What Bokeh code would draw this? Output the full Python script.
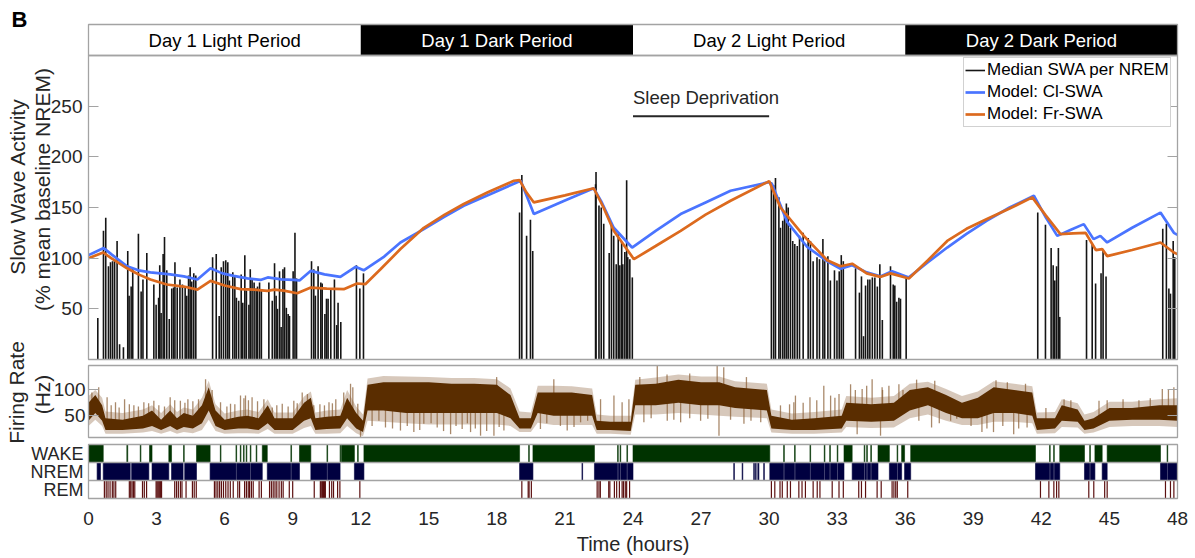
import math
from bokeh.plotting import figure
from bokeh.models import (Range1d, LinearAxis, FixedTicker, Label,
                          Legend, LegendItem)
from bokeh.embed import file_html
from bokeh.resources import INLINE
from bokeh.core.properties import value

# ---------------- data ----------------
period_labels = ["Day 1 Light Period", "Day 1 Dark Period",
                 "Day 2 Light Period", "Day 2 Dark Period"]
period_start = [0, 12, 24, 36]
period_end = [12, 24, 36, 48]
period_dark = [False, True, False, True]

sd_start = 24
sd_end = 30
sd_label = "Sleep Deprivation"

x_ticks = [0, 3, 6, 9, 12, 15, 18, 21, 24, 27, 30, 33, 36, 39, 42, 45, 48]
swa_ticks = [50, 100, 150, 200, 250]
rate_ticks = [50, 100]
state_rows = {1: "REM", 2: "NREM", 3: "WAKE"}

# median SWA per NREM episode (hours, % baseline)
bar_t = [0.41, 0.66, 0.76, 0.88, 0.97, 1.06, 1.15, 1.26, 1.37, 1.54, 1.73, 1.79,
         1.88, 1.95, 2.20, 2.32, 2.40, 2.57, 2.88, 2.98, 3.09, 3.14, 3.20, 3.29,
         3.35, 3.45, 3.56, 3.67, 3.75, 3.81, 3.91, 4.03, 4.14, 4.26, 4.33, 4.41,
         4.48, 4.55, 4.64, 4.73, 5.47, 5.63, 5.76, 5.85, 5.95, 6.05, 6.14, 6.21,
         6.36, 6.45, 6.52, 6.62, 6.73, 6.80, 6.89, 6.96, 7.07, 7.13, 7.21, 7.30,
         7.39, 7.45, 7.54, 7.62, 7.95, 8.10, 8.20, 8.27, 8.33, 8.42, 8.49, 8.57,
         8.64, 8.72, 8.80, 8.86, 9.02, 9.10, 9.17, 9.83, 9.93, 10.00, 10.12, 10.24,
         10.30, 10.42, 10.49, 10.56, 10.68, 10.84, 10.94, 11.00, 11.12, 11.81, 11.96, 12.12,
         19.00, 19.10, 19.31, 19.48, 19.58,
         22.35, 22.37, 22.50, 22.60, 22.71, 22.95, 23.05, 23.15, 23.26, 23.35, 23.42,
         23.50, 23.55, 23.64, 23.72, 23.77, 23.86, 23.97,
         30.10, 30.20, 30.28, 30.43, 30.50, 30.60, 30.68, 30.76, 30.84, 30.94, 31.04,
         31.13, 31.24, 31.34, 31.50, 31.72, 31.82, 31.94, 32.11, 32.22, 32.37, 32.45,
         32.59, 32.70, 32.88, 32.99, 33.09, 33.18, 33.27, 33.81, 33.98, 34.07, 34.16,
         34.25, 34.35, 34.44, 34.55, 34.66, 34.77, 34.88, 34.99, 35.35, 35.47, 35.54,
         35.62, 35.72, 35.79, 36.04,
         41.84, 42.18, 42.43, 42.52, 42.59, 42.67, 42.75, 42.81, 43.99, 44.24, 44.39,
         44.63, 44.72, 44.85, 47.35, 47.51, 47.62, 47.69, 47.81, 47.88]
bar_v = [41, 127, 140, 92, 96, 97, 99, 117, 15, 12, 107, 63,
         72, 89, 124, 67, 79, 105, 74, 54, 61, 93, 46, 104,
         121, 88, 40, 70, 71, 96, 71, 79, 74, 71, 63, 83,
         91, 77, 85, 83, 101, 104, 43, 91, 97, 98, 96, 78,
         86, 82, 61, 58, 84, 56, 103, 68, 54, 89, 80, 76,
         70, 72, 76, 69, 76, 58, 95, 63, 50, 87, 32, 89,
         91, 51, 45, 43, 87, 125, 80, 97, 89, 63, 92, 76,
         75, 45, 60, 60, 69, 79, 34, 56, 37, 93, 70, 85,
         145, 182, 122, 138, 107,
         173, 185, 152, 150, 134, 105, 133, 122, 94, 124, 93,
         116, 94, 106, 177, 101, 99, 81,
         175, 172, 179, 160, 130, 137, 145, 154, 150, 130, 117,
         114, 112, 122, 125, 120, 117, 97, 101, 99, 119, 97,
         102, 78, 88, 78, 87, 103, 97, 90, 66, 82, 23,
         73, 79, 79, 81, 81, 72, 94, 39, 92, 74, 73,
         57, 61, 60, 81,
         145, 133, 110, 93, 78, 92, 110, 42, 118, 114, 75,
         85, 109, 82, 129, 134, 70, 65, 117, 101]

# Model: Cl-SWA
cl_t = [0.0, 0.67, 1.0, 1.7, 2.2, 2.73, 3.6, 4.2, 4.8, 5.38, 5.9, 6.4, 7.0, 7.58,
        7.9, 8.5, 9.05, 9.3, 9.8, 10.4, 11.1, 11.77, 12.13, 13.0, 13.75, 14.78,
        15.7, 16.54, 17.7, 18.9, 19.05, 19.63, 21.0, 22.27, 22.6, 23.15, 23.96,
        25.0, 26.1, 27.2, 28.3, 29.99, 30.13, 30.8, 31.68, 32.56, 33.15, 33.66,
        34.3, 34.9, 35.42, 36.16, 37.0, 37.85, 38.7, 39.6, 40.6, 41.67, 42.2,
        42.7, 43.3, 43.87, 44.3, 44.6, 44.9, 46.0, 47.25, 47.84, 48.0]
cl_v = [103, 110, 104, 92, 88, 86, 84, 82, 79, 90, 85, 82.5, 80, 78.5,
        81, 79, 78.5, 78, 87.5, 84, 81.5, 91.5, 88, 101, 115.5, 128.7,
        141, 151.7, 163, 175, 176.5, 143.5, 157, 169, 156, 130, 110.5,
        127, 143.5, 155, 166.5, 175, 173, 135.5, 111, 97, 89.5, 93,
        86, 82, 87, 81, 96, 110.5, 124, 137, 150, 161.6, 140,
        122, 128, 133.6, 118.8, 122, 115.5, 130, 145, 125, 123]

# Model: Fr-SWA
fr_t = [0.0, 0.65, 1.0, 1.7, 2.2, 2.73, 3.45, 4.2, 4.8, 5.38, 6.0, 6.7, 7.3,
        7.88, 8.2, 8.6, 9.2, 9.8, 10.5, 11.25, 11.84, 12.2, 12.87, 13.75, 14.78,
        15.7, 16.54, 17.6, 18.75, 19.0, 19.3, 19.63, 21.0, 22.27, 22.7, 23.15,
        24.04, 25.0, 26.1, 27.2, 28.3, 29.9, 30.0, 30.5, 31.53, 32.56, 33.15,
        33.66, 34.3, 34.9, 35.35, 36.16, 37.0, 37.85, 38.7, 39.6, 40.6, 41.6,
        42.2, 42.84, 43.4, 43.95, 44.4, 44.68, 44.9, 46.0, 47.25, 47.84, 48.0]
fr_v = [100, 105.6, 100, 90, 84, 79, 74, 72, 69, 77.6, 73, 69.4, 69,
        67.7, 69, 68, 65.4, 71, 70, 69.4, 75, 74.3, 89, 109, 130,
        143, 153.4, 165, 176.4, 177, 165, 155, 162, 169, 150, 127,
        99, 112, 127, 143, 156.7, 174.8, 176, 150, 122, 98, 92,
        94.5, 85, 81.5, 85, 80, 98, 117, 129, 138.6, 149, 160,
        142, 123.8, 124.5, 125, 108, 109, 102, 108, 115.5, 105.6, 104]

# firing rate (Hz): outer envelope, dense core, and isolated spikes
rate_t = [0, 0.3, 0.6, 0.75, 1.5, 2.4, 2.8, 3.2, 3.6, 3.9, 4.2, 4.6, 5.0, 5.3,
          5.6, 6.0, 6.6, 7.0, 7.5, 7.9, 8.2, 9.0, 9.5, 9.8, 10.0, 10.5, 11.1,
          11.4, 11.8, 12.1, 12.3, 13.0, 14.0, 15.0, 16.0, 17.0, 18.0, 18.6,
          19.0, 19.5, 19.8, 20.5, 21.3, 22.2, 22.4, 23.0, 23.9, 24.1, 25.0,
          26.0, 27.0, 27.8, 28.5, 29.9, 30.1, 31.0, 32.0, 33.2, 33.4, 34.5,
          35.5, 36.2, 37.0, 37.8, 38.5, 39.2, 39.9, 40.8, 41.6, 41.8, 42.6,
          42.9, 43.6, 43.9, 44.3, 45.0, 46.0, 47.2, 48.0]
rate_lo = [30, 42, 30, 15, 15, 17, 20, 15, 20, 15, 18, 16, 22, 42,
           20, 15, 16, 16, 15, 24, 15, 15, 26, 30, 15, 15, 16,
           30, 16, 10, 40, 38, 35, 33, 33, 33, 33, 30,
           18, 18, 36, 32, 32, 32, 15, 15, 13, 52, 52,
           55, 52, 50, 48, 45, 17, 15, 15, 17, 28, 26,
           27, 45, 52, 40, 32, 32, 38, 38, 35, 15, 16,
           28, 27, 15, 17, 28, 30, 30, 28]
rate_q1 = [40, 55, 40, 22, 22, 25, 30, 22, 30, 22, 28, 25, 35, 60,
           30, 22, 25, 25, 22, 35, 22, 22, 40, 45, 22, 24, 25,
           45, 25, 18, 60, 60, 55, 55, 55, 55, 55, 45,
           25, 25, 55, 50, 50, 50, 22, 22, 20, 70, 70,
           75, 70, 70, 65, 60, 25, 22, 22, 25, 40, 38,
           40, 60, 70, 55, 45, 45, 55, 55, 50, 22, 25,
           40, 38, 22, 25, 40, 42, 42, 40]
rate_q3 = [75, 90, 70, 45, 42, 50, 60, 42, 60, 45, 55, 50, 70, 105,
           60, 42, 48, 50, 45, 70, 45, 45, 75, 85, 45, 48, 50,
           85, 55, 40, 110, 115, 115, 115, 112, 112, 110, 90,
           45, 45, 95, 95, 95, 90, 40, 38, 38, 110, 112,
           120, 115, 115, 105, 100, 50, 42, 45, 50, 75, 72,
           75, 100, 105, 90, 75, 85, 105, 100, 95, 45, 45,
           70, 62, 40, 45, 65, 65, 70, 70]
rate_hi = [88, 100, 85, 58, 55, 62, 70, 55, 72, 57, 66, 62, 85, 118,
           72, 54, 60, 62, 57, 82, 56, 56, 87, 97, 56, 60, 62,
           100, 68, 52, 122, 127, 126, 125, 123, 123, 121, 103,
           58, 56, 108, 108, 107, 103, 52, 50, 50, 120, 124,
           130, 126, 126, 117, 112, 62, 54, 57, 62, 88, 85,
           88, 112, 116, 102, 88, 97, 117, 112, 107, 56, 57,
           82, 74, 52, 57, 77, 77, 82, 84]
spike_t = [0.15, 0.45, 0.82, 1.0, 1.19, 1.35, 1.59, 1.8, 2.0, 2.2, 2.44, 2.65,
           2.88, 3.1, 3.35, 3.6, 3.8, 4.05, 4.25, 4.38, 4.6, 4.85, 5.16, 5.45,
           5.82, 6.1, 6.26, 6.45, 6.7, 6.85, 6.92, 7.05, 7.21, 7.45, 7.73, 8.1,
           8.3, 8.54, 8.8, 9.05, 9.2, 9.42, 9.65, 9.93, 10.2, 10.4, 10.6, 10.75,
           10.9, 11.25, 11.55, 11.65, 11.87,
           17.99, 20.51, 22.57, 23.16, 23.52, 23.82, 24.3, 25.07, 25.5, 26.5,
           27.71, 28.0, 29.0,
           30.5, 30.9, 31.09, 31.16, 31.5, 31.8, 32.1, 32.41, 32.71, 32.9, 33.08,
           33.59, 33.8, 34.1, 34.3, 34.54, 34.98, 35.0, 35.28, 35.72, 35.9, 36.5,
           37.3, 40.0, 40.5, 41.3, 42.2, 43.0, 43.3, 44.54, 44.9, 45.6, 46.3,
           46.8, 47.33, 47.6, 47.84,
           11.99, 12.5, 12.8, 13.09, 13.4, 13.75, 14.05, 14.34, 14.6, 14.78, 15.1,
           15.37, 15.65, 15.96, 16.2, 16.47, 16.7, 16.84, 17.05, 17.28, 17.55,
           17.87, 18.1, 18.31, 19.92, 20.2, 20.8, 21.1, 21.4, 21.69, 22.0, 24.48,
           24.8, 25.51, 25.8, 26.1, 26.5, 26.98, 27.3, 27.79, 28.3, 28.89, 29.2,
           29.63, 33.88, 34.91, 36.6, 37.16, 37.5, 38.0, 38.27, 38.9, 39.38,
           39.6, 39.89, 40.3, 40.78, 41.0, 41.37]
spike_base = [60, 70, 35, 35, 35, 35, 35, 35, 35, 35, 38, 40,
              40, 35, 35, 45, 40, 40, 40, 40, 40, 40, 80, 60,
              40, 35, 35, 35, 38, 38, 38, 38, 38, 38, 50, 35,
              35, 35, 35, 35, 35, 55, 55, 40, 35, 35, 35, 35,
              35, 50, 65, 60, 40,
              90, 75, 30, 30, 30, 30, 95, 95, 100, 100,
              95, 95, 95,
              35, 35, 35, 35, 35, 35, 35, 35, 35, 38, 38,
              60, 55, 55, 55, 55, 55, 55, 55, 55, 55, 85,
              85, 80, 80, 80, 35, 55, 50, 40, 50, 50, 50,
              50, 55, 55, 55,
              30, 80, 80, 80, 80, 80, 80, 80, 80, 80, 80,
              80, 80, 80, 80, 80, 80, 80, 80, 80, 80,
              80, 80, 80, 70, 70, 70, 70, 70, 70, 70, 90,
              90, 90, 90, 90, 90, 90, 90, 90, 85, 85, 80,
              80, 55, 55, 85, 85, 80, 70, 65, 65, 65,
              70, 70, 75, 75, 75, 70]
spike_tip = [95, 105, 86, 70, 76, 66, 82, 72, 70, 68, 76, 74,
             79, 70, 68, 86, 80, 79, 75, 82, 78, 82, 121, 100,
             76, 68, 73, 72, 89, 84, 89, 80, 86, 78, 82, 66,
             70, 73, 68, 79, 74, 95, 92, 70, 72, 70, 76, 74,
             82, 95, 112, 105, 73,
             125, 121, 82, 89, 76, 82, 125, 147, 130, 132,
             147, 144, 125,
             70, 72, 76, 89, 75, 86, 80, 108, 89, 85, 92,
             111, 100, 102, 108, 121, 105, 100, 108, 111, 100, 120,
             118, 119, 115, 112, 65, 82, 80, 79, 80, 82, 80,
             84, 102, 100, 105,
             8, 30, 40, 27, 25, 21, 30, 18, 22, 34, 35,
             27, 20, 14, 30, 24, 35, 18, 25, 11, 20,
             11, 28, 21, 24, 35, 30, 21, 28, 37, 40, 37,
             45, 40, 42, 37, 45, 40, 44, 11, 42, 34, 40,
             37, 14, 11, 40, 27, 35, 40, 44, 30, 18,
             25, 18, 30, 14, 25, 27]

# hypnogram (hours)
wake_start = [0.0, 1.69, 2.28, 2.69, 3.54, 4.19, 4.76, 5.81, 6.50, 6.69, 6.83, 6.95,
              7.13, 7.39, 7.66, 8.92, 9.30, 10.51, 11.09, 11.15, 11.86, 12.14, 19.40,
              19.59, 23.32, 23.43, 23.73, 24.00, 30.64, 31.12, 31.80, 32.43, 32.67,
              33.00, 33.30, 34.19, 34.30, 34.48, 34.80, 35.64, 35.84, 36.24, 42.36,
              42.54, 42.81, 44.13, 44.36, 44.90, 47.54]
wake_end = [0.65, 1.73, 2.31, 2.80, 3.66, 4.22, 5.36, 5.84, 6.53, 6.72, 6.86, 6.98,
            7.16, 7.42, 7.88, 8.95, 9.80, 10.54, 11.11, 11.72, 11.89, 19.00, 19.43,
            22.30, 23.35, 23.46, 23.76, 30.03, 30.67, 31.15, 31.83, 32.46, 32.70,
            33.03, 33.66, 34.22, 34.33, 34.51, 35.30, 35.67, 35.97, 41.74, 42.39,
            42.57, 43.90, 44.16, 44.68, 47.25, 47.57]
nrem_start = [0.38, 0.65, 1.90, 2.80, 3.66, 4.24, 5.36, 6.53, 7.16, 7.88, 8.95, 9.80,
              10.54, 11.72, 19.00, 21.75, 22.30, 23.35, 23.46, 23.76, 28.44, 28.81,
              29.32, 29.40, 29.50, 29.76, 30.03, 30.67, 31.15, 31.83, 32.46, 32.70,
              33.03, 33.66, 34.22, 34.33, 34.51, 35.30, 35.67, 35.97, 41.74, 42.39,
              42.57, 43.90, 44.16, 44.68, 47.25, 47.57]
nrem_end = [0.53, 1.84, 2.66, 3.54, 4.17, 4.76, 6.50, 7.13, 7.66, 8.92, 9.30, 10.51,
            11.09, 12.14, 19.59, 21.78, 23.32, 23.43, 23.73, 24.00, 28.47, 28.84,
            29.35, 29.43, 29.55, 29.79, 30.64, 31.12, 31.80, 32.43, 32.67, 33.00,
            33.30, 34.19, 34.30, 34.48, 34.80, 35.64, 35.84, 36.24, 42.36, 42.54,
            42.81, 44.13, 44.36, 44.90, 47.54, 48.00]
rem_t = [0.70, 0.78, 0.86, 0.95, 1.05, 1.12, 1.20, 1.80, 1.86, 1.92, 1.98, 2.04,
         2.38, 2.46, 2.56, 2.98, 3.02, 3.06, 3.10, 3.14, 3.18, 3.22, 3.80, 3.88,
         3.96, 4.05, 4.12, 4.30, 4.58, 4.66, 4.75, 5.55, 5.62, 5.70, 5.78, 5.86,
         5.95, 6.05, 6.15, 6.25, 6.38, 6.58, 6.66, 6.88, 6.96, 7.04, 7.10, 7.18,
         7.26, 7.52, 7.62, 7.98, 8.06, 8.14, 8.22, 8.30, 8.40, 8.50, 8.58, 8.85,
         9.00, 9.95, 10.22, 10.28, 10.32, 10.36, 10.40, 10.44, 10.62, 10.72, 10.80,
         10.98, 11.08, 11.96,
         19.10, 19.38, 19.42, 19.52, 22.42, 22.50, 22.56, 22.93, 22.98, 23.18,
         23.28, 23.40, 23.52, 23.58, 23.66, 23.72, 23.85,
         30.10, 30.25, 30.48, 30.58, 30.80, 30.94, 31.31, 31.45, 31.60, 31.94,
         32.12, 32.24, 32.78, 33.08, 33.27, 33.95, 34.07, 34.25, 34.76, 34.94,
         35.42, 35.50, 35.58, 35.65, 36.11, 41.96, 42.33, 42.55, 42.67, 42.77,
         44.09, 44.31, 44.79, 44.90, 47.47, 47.69, 47.84]

# ---------------- layout ----------------
W, H = 1195, 558
PL, PR = 88, 1177          # panel left / right (px)
X0, X1 = 0, 48
KX = (PR - PL) / (X1 - X0)
FONT = "Liberation Sans"
TXT = "#262626"
GRID = "#A3A3A3"


def yr(v0, v1, py0, py1):
    k = (py0 - py1) / (v1 - v0)
    return Range1d(start=v0 - (H - py0) / k, end=v1 + py1 / k)


def hx(px):
    return X0 + (px - PL) / KX


p = figure(width=W, height=H,
           x_range=Range1d(X0 - PL / KX, X1 + (W - PR) / KX),
           y_range=Range1d(H, 0),
           output_backend="svg", toolbar_location=None,
           x_axis_location=None, y_axis_location=None,
           min_border=0)
p.outline_line_color = None
p.background_fill_color = "white"
p.border_fill_color = "white"
for g in p.grid:
    g.visible = False

p.extra_y_ranges = {
    "band": yr(0, 1, 55, 24),
    "swa": yr(0, 300, 359, 55),
    "rate": yr(7.5, 147.5, 437, 365),
    "hyp": yr(0.5, 3.5, 498, 444),
}

# period band
p.quad(left=period_start, right=period_end, bottom=0, top=1, y_range_name="band",
       fill_color=["black" if d else "white" for d in period_dark], line_color=None)
p.text(x=[(a + b) / 2 for a, b in zip(period_start, period_end)], y=0.5,
       text=period_labels, y_range_name="band",
       text_color=["white" if d else "black" for d in period_dark],
       text_align="center", text_baseline="middle",
       text_font=value(FONT), text_font_size="18.5px")

# SWA panel
bars_r = p.segment(x0=bar_t, y0=0, x1=bar_t, y1=bar_v, y_range_name="swa",
                   line_color="#151515", line_width=1.6)
cl_r = p.line(cl_t, cl_v, y_range_name="swa", line_color="#4A74FF", line_width=2.7)
fr_r = p.line(fr_t, fr_v, y_range_name="swa", line_color="#DC6A1E", line_width=2.7)

p.segment(x0=[sd_start], x1=[sd_end], y0=[240], y1=[240], y_range_name="swa",
          line_color=TXT, line_width=2)
p.add_layout(Label(x=sd_start, y=259, y_range_name="swa", text=sd_label,
                   text_baseline="middle", text_align="left", text_color=TXT,
                   text_font=FONT, text_font_size="18.5px"))

# firing rate panel
p.varea(x=rate_t, y1=rate_lo, y2=rate_hi, y_range_name="rate",
        fill_color="#7A4A1E", fill_alpha=0.3)
p.segment(x0=spike_t, x1=spike_t, y0=spike_base, y1=spike_tip, y_range_name="rate",
          line_color="#8C6239", line_alpha=0.75, line_width=1.3)
p.varea(x=rate_t, y1=rate_q1, y2=rate_q3, y_range_name="rate",
        fill_color="#5A2D00", fill_alpha=1.0)

# hypnogram
p.quad(left=wake_start, right=wake_end, bottom=2.5, top=3.5, y_range_name="hyp",
       fill_color="#003300", line_color="#003300", line_width=0.6)
p.quad(left=nrem_start, right=nrem_end, bottom=1.5, top=2.5, y_range_name="hyp",
       fill_color="#000040", line_color="#000040", line_width=0.6)
p.segment(x0=rem_t, x1=rem_t, y0=0.5, y1=1.5, y_range_name="hyp",
          line_color="#5C1010", line_width=1.2)

# panel frames
for rng, lo, hi in [("band", 0, 1), ("swa", 0, 300), ("rate", 7.5, 147.5),
                    ("hyp", 0.5, 3.5)]:
    p.quad(left=X0, right=X1, bottom=lo, top=hi, y_range_name=rng,
           fill_color=None, line_color=GRID, line_width=1.3)
p.segment(x0=[X0, X0], x1=[X1, X1], y0=[1.5, 2.5], y1=[1.5, 2.5], y_range_name="hyp",
          line_color=GRID, line_width=1.3)


def vaxis(side, rng, ticks, show_labels, tick_in=10, standoff=6,
          overrides=None, size="19px"):
    ax = LinearAxis(y_range_name=rng, fixed_location=X0 if side == "left" else X1,
                    ticker=FixedTicker(ticks=ticks),
                    axis_line_color=None,
                    major_tick_in=tick_in, major_tick_out=0,
                    major_tick_line_color=GRID, major_tick_line_width=1.2,
                    minor_tick_line_color=None,
                    major_label_text_font=FONT, major_label_text_font_size=size,
                    major_label_text_color=TXT if show_labels else None,
                    major_label_standoff=standoff)
    if overrides:
        ax.major_label_overrides = overrides
    p.add_layout(ax, side)


vaxis("left", "swa", swa_ticks, True)
vaxis("right", "swa", swa_ticks, False)
vaxis("left", "rate", rate_ticks, True, standoff=3)
vaxis("right", "rate", rate_ticks, False)
vaxis("left", "hyp", list(state_rows.keys()), True, tick_in=0,
      standoff=5, overrides=state_rows, size="18px")

xax = LinearAxis(y_range_name="hyp", fixed_location=0.5,
                 ticker=FixedTicker(ticks=x_ticks), axis_line_color=None,
                 major_tick_in=0, major_tick_out=0,
                 minor_tick_line_color=None, major_label_text_font=FONT,
                 major_label_text_font_size="19px", major_label_text_color=TXT,
                 major_label_standoff=13)
p.add_layout(xax, "below")


# titles
def lab(text, px, py, size, angle=0.0, bold=False):
    p.add_layout(Label(x=hx(px), y=py, text=text, angle=angle,
                       text_align="center", text_baseline="middle",
                       text_color="black" if bold else TXT, text_font=FONT,
                       text_font_size=size,
                       text_font_style="bold" if bold else "normal"))


lab("Slow Wave Activity", 17, 186, "21px", math.pi / 2)
lab("(% mean baseline NREM)", 42, 189, "21px", math.pi / 2)
lab("Firing Rate", 16, 392, "21px", math.pi / 2)
lab("(Hz)", 42, 394, "21px", math.pi / 2)
lab("Time (hours)", PL + (PR - PL) / 2, 543, "20px")
lab("B", 19, 19, "22px", bold=True)

legend = Legend(items=[LegendItem(label="Median SWA per NREM", renderers=[bars_r]),
                       LegendItem(label="Model: Cl-SWA", renderers=[cl_r]),
                       LegendItem(label="Model: Fr-SWA", renderers=[fr_r])],
                location=(963, H - 127), margin=0, padding=1, spacing=0,
                glyph_width=20, glyph_height=22, label_height=22, label_standoff=2,
                label_text_font=FONT, label_text_font_size="17px",
                label_text_color="black", border_line_color=GRID,
                border_line_width=1.2, background_fill_color="white",
                background_fill_alpha=1.0)
p.add_layout(legend)

open("out.html", "w").write(file_html(p, INLINE))
